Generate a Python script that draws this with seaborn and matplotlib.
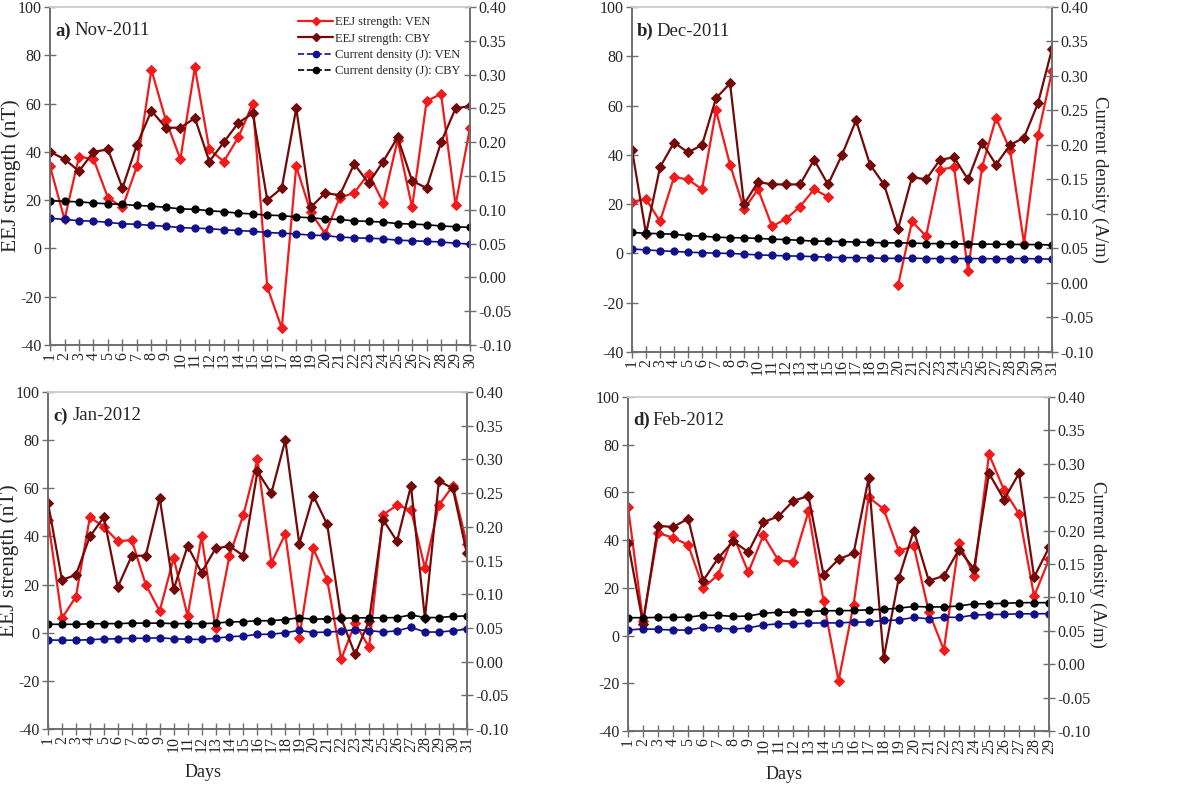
import numpy as np
import pandas as pd
import seaborn as sns
import matplotlib
matplotlib.use('Agg')
import matplotlib.pyplot as plt
from matplotlib.ticker import FormatStrFormatter
from matplotlib.lines import Line2D

# EEJ strength (nT) and current density (A/m) per day
nov_eej_ven = [34, 12, 38, 37, 21, 17, 34, 74, 53, 37, 75, 41, 36, 46, 60,
               -16, -33, 34, 15, 6, 21, 23, 31, 19, 45, 17, 61, 64, 18, 50]
nov_eej_cby = [40, 37, 32, 40, 41, 25, 43, 57, 50, 50, 54, 36, 44, 52, 56,
               20, 25, 58, 17, 23, 22, 35, 27, 36, 46, 28, 25, 44, 58, 59]
nov_j_ven = [0.0875, 0.0857, 0.0839, 0.0832, 0.0814, 0.0793, 0.0786, 0.0768, 0.0757, 0.0736,
             0.0729, 0.0721, 0.0704, 0.0693, 0.0682, 0.0664, 0.0654, 0.0643, 0.0625, 0.0618,
             0.0596, 0.0586, 0.0579, 0.0571, 0.0550, 0.0543, 0.0532, 0.0525, 0.0504, 0.0496]
nov_j_cby = [0.1136, 0.1125, 0.1118, 0.1100, 0.1089, 0.1079, 0.1064, 0.1054, 0.1036, 0.1014,
             0.1007, 0.0986, 0.0971, 0.0950, 0.0939, 0.0921, 0.0914, 0.0893, 0.0882, 0.0864,
             0.0857, 0.0836, 0.0829, 0.0818, 0.0796, 0.0789, 0.0779, 0.0761, 0.0750, 0.0739]

dec_eej_ven = [21, 22, 13, 31, 30, 26, 58, 36, 18, 26, 11, 14, 19, 26, 23,
               np.nan, np.nan, np.nan, np.nan, -13, 13, 7, 34, 35, -7, 35, 55, 42, 4, 48, 74]
dec_eej_cby = [42, 8, 35, 45, 41, 44, 63, 69, 20, 29, 28, 28, 28, 38, 28,
               40, 54, 36, 28, 10, 31, 30, 38, 39, 30, 45, 36, 44, 47, 61, 83]
dec_j_ven = [0.0493, 0.0479, 0.0468, 0.0457, 0.0446, 0.0439, 0.0432, 0.0429, 0.0418, 0.0407,
             0.0400, 0.0393, 0.0389, 0.0382, 0.0375, 0.0368, 0.0368, 0.0364, 0.0357, 0.0357,
             0.0361, 0.0354, 0.0354, 0.0354, 0.0354, 0.0354, 0.0350, 0.0354, 0.0354, 0.0350, 0.0346]
dec_j_cby = [0.0732, 0.0721, 0.0714, 0.0707, 0.0686, 0.0679, 0.0664, 0.0657, 0.0654, 0.0646,
             0.0636, 0.0629, 0.0618, 0.0607, 0.0607, 0.0600, 0.0593, 0.0589, 0.0582, 0.0582,
             0.0579, 0.0571, 0.0571, 0.0568, 0.0564, 0.0564, 0.0561, 0.0561, 0.0557, 0.0557, 0.0550]

jan_eej_ven = [47, 6, 15, 48, 44, 38, 38.5, 20, 9, 31, 7, 40, 2, 32, 49, 72,
               29, 41, -2, 35, 22, -11, 4, -6, 49, 53, 51, 27, 53, 61, 37]
jan_eej_cby = [54, 22, 24, 40, 48, 19, 32, 32, 56, 18, 36, 25, 35, 36, 32, 67,
               58, 80, 37, 57, 45, 6, -9, 5, 47, 38, 61, 6, 63, 60, 33]
jan_j_ven = [0.0321, 0.0318, 0.0318, 0.0325, 0.0336, 0.0339, 0.0346, 0.0346, 0.0354, 0.0339,
             0.0332, 0.0329, 0.0346, 0.0371, 0.0379, 0.0404, 0.0407, 0.0429, 0.0464, 0.0432,
             0.0439, 0.0450, 0.0475, 0.0461, 0.0439, 0.0457, 0.0511, 0.0439, 0.0439, 0.0457, 0.0482]
jan_j_cby = [0.0554, 0.0554, 0.0554, 0.0561, 0.0564, 0.0564, 0.0571, 0.0571, 0.0571, 0.0564,
             0.0564, 0.0564, 0.0571, 0.0589, 0.0593, 0.0607, 0.0607, 0.0625, 0.0650, 0.0629,
             0.0636, 0.0643, 0.0650, 0.0650, 0.0650, 0.0654, 0.0693, 0.0654, 0.0654, 0.0671, 0.0679]

feb_eej_ven = [54, 6, 43, 41, 38, 20, 25.5, 42, 26.5, 42, 31.5, 31, 52, 14.5, -19,
               13, 58, 53, 35.5, 37.5, 10, -6, 39, 25, 76, 61, 51, 16.5, 32]
feb_eej_cby = [39, 5, 46, 45.5, 49, 23, 32.5, 39.5, 35, 47.5, 50, 56.5, 58.5, 25.5, 32,
               34.5, 66, -9.5, 24, 44, 23, 25, 36, 28, 68, 57, 68, 24.5, 37]
feb_j_ven = [0.0511, 0.0529, 0.0521, 0.0511, 0.0511, 0.0550, 0.0543, 0.0525, 0.0543, 0.0586,
             0.0604, 0.0604, 0.0614, 0.0618, 0.0618, 0.0629, 0.0632, 0.0654, 0.0661, 0.0700,
             0.0679, 0.0704, 0.0700, 0.0736, 0.0743, 0.0746, 0.0754, 0.0754, 0.0757]
feb_j_cby = [0.0696, 0.0696, 0.0700, 0.0700, 0.0704, 0.0732, 0.0732, 0.0714, 0.0721, 0.0761,
             0.0779, 0.0779, 0.0786, 0.0800, 0.0800, 0.0804, 0.0814, 0.0821, 0.0839, 0.0864,
             0.0857, 0.0857, 0.0871, 0.0904, 0.0904, 0.0911, 0.0921, 0.0921, 0.0921]

panels = [
    ('a)', 'Nov-2011', nov_eej_ven, nov_eej_cby, nov_j_ven, nov_j_cby),
    ('b)', 'Dec-2011', dec_eej_ven, dec_eej_cby, dec_j_ven, dec_j_cby),
    ('c)', 'Jan-2012', jan_eej_ven, jan_eej_cby, jan_j_ven, jan_j_cby),
    ('d)', 'Feb-2012', feb_eej_ven, feb_eej_cby, feb_j_ven, feb_j_cby),
]

# axes positions in figure fraction
positions = [
    [0.0417, 0.5605, 0.350, 0.4306],
    [0.5267, 0.5516, 0.350, 0.4395],
    [0.0400, 0.0713, 0.349, 0.4293],
    [0.5233, 0.0688, 0.351, 0.4255],
]

c_ven = '#f21a1a'
c_cby = '#730a0a'
c_jven = '#10108a'
c_jcby = '#000000'
spine_c = '#6e6e6e'

sns.set_style('ticks')
plt.rcParams['font.family'] = ['Liberation Serif', 'DejaVu Serif']
plt.rcParams['axes.edgecolor'] = spine_c
plt.rcParams['axes.unicode_minus'] = False


def draw(ax, days, vals, color, marker, ms, lw, ls='-'):
    df = pd.DataFrame({'day': days, 'val': vals})
    # break line at missing values
    df['seg'] = df['val'].isna().cumsum()
    df = df.dropna()
    sns.lineplot(data=df, x='day', y='val', units='seg', estimator=None, ax=ax,
                 color=color, marker=marker, markersize=ms, markeredgecolor=color,
                 linewidth=lw, linestyle=ls, legend=False)


fig = plt.figure(figsize=(12, 7.85), dpi=100)

for i, (lab, month, ven, cby, jven, jcby) in enumerate(panels):
    ax = fig.add_axes(positions[i])
    ax2 = ax.twinx()
    n = len(ven)
    days = np.arange(1, n + 1)

    draw(ax, days, ven, c_ven, 'D', 4.8, 1.6)
    draw(ax, days, cby, c_cby, 'D', 4.8, 1.6)
    draw(ax2, days, jven, c_jven, 'o', 5.2, 1.2)
    draw(ax2, days, jcby, c_jcby, 'o', 5.2, 1.2)

    ax.set_xlim(1, n)
    ax.set_ylim(-40, 100)
    ax.set_yticks(np.arange(-40, 101, 20))
    ax2.set_ylim(-0.10, 0.40)
    ax2.set_yticks(np.arange(-0.10, 0.401, 0.05))
    ax2.yaxis.set_major_formatter(FormatStrFormatter('%.2f'))
    ax.set_xticks(days)
    ax.set_xticklabels([str(d) for d in days], rotation=90)

    for a in (ax, ax2):
        a.tick_params(axis='both', direction='inout', length=8, width=1,
                      color=spine_c, labelsize=11.5, pad=2)
        for s in a.spines.values():
            s.set_color(spine_c)
            s.set_linewidth(1.2)
        a.spines['top'].set_color('#cfcfcf')
        a.set_xlabel('')
        a.set_ylabel('')
    ax.tick_params(axis='x', length=8, pad=1)

    if i in (0, 2):
        ax.set_ylabel('EEJ strength (nT)', fontsize=15.5)
        ax.yaxis.set_label_coords(-0.069, 0.5)
    if i in (1, 3):
        ax2.set_ylabel('Current density (A/m)', fontsize=13.5, rotation=270)
        ax2.yaxis.set_label_coords(1.135, 0.5)
    if i in (2, 3):
        ax.set_xlabel('Days', fontsize=13)
        ax.xaxis.set_label_coords(0.37, -0.105)

    ax.text(0.012, 0.955, lab, transform=ax.transAxes, fontsize=13.5,
            fontweight='bold', va='top', ha='left')
    ax.text(0.058, 0.955, month, transform=ax.transAxes, fontsize=13.5,
            va='top', ha='left')

    if i == 0:
        handles = [
            Line2D([], [], color=c_ven, marker='D', ms=4.5, lw=1.6),
            Line2D([], [], color=c_cby, marker='D', ms=4.5, lw=1.6),
            Line2D([], [], color=c_jven, marker='o', ms=4.5, lw=1.2, ls='--'),
            Line2D([], [], color=c_jcby, marker='o', ms=4.5, lw=1.2, ls='--'),
        ]
        labels = ['EEJ strength: VEN', 'EEJ strength: CBY',
                  'Current density (J): VEN', 'Current density (J): CBY']
        ax2.legend(handles, labels, loc='upper right', bbox_to_anchor=(1.0, 1.0),
                   frameon=False, fontsize=9, handlelength=2.8, handletextpad=0.15,
                   labelspacing=0.35, borderaxespad=0.35)

fig.savefig('out.png', dpi=100)
